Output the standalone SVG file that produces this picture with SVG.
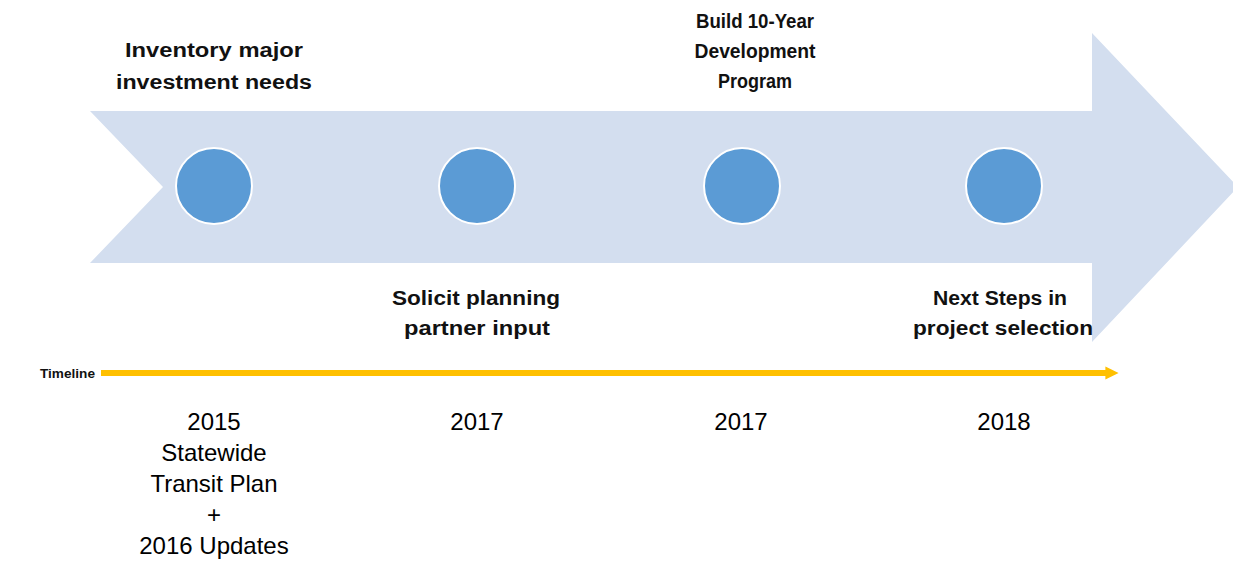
<svg xmlns="http://www.w3.org/2000/svg" width="1233" height="578" viewBox="0 0 1233 578">
<defs>
<style>
.lbl{font-family:"Liberation Sans",Arial,sans-serif;font-weight:bold;font-size:20px;fill:#111;text-anchor:middle}
.yr{font-family:"Liberation Sans",Arial,sans-serif;font-size:24px;fill:#000;text-anchor:middle}
.dot{fill:#5B9BD5;stroke:#ffffff;stroke-width:2}
.tl{font-family:"Liberation Sans",Arial,sans-serif;font-weight:bold;font-size:13px;fill:#111}
</style>
<marker id="ah" viewBox="0 0 10 10" refX="5" refY="5" markerWidth="2.2" markerHeight="2.2" orient="auto" markerUnits="strokeWidth">
<path d="M0,0 L10,5 L0,10 z" fill="#FFC000"/>
</marker>
</defs>
<g id="big-arrow">
<polygon points="90,111 1092,111 1092,33 1238,187 1092,342 1092,263 90,263 163,187" fill="#D3DEEF"/>
</g>
<g id="connectors">
<line x1="101" y1="373" x2="1112" y2="373" stroke="#FFC000" stroke-width="6" marker-end="url(#ah)"/>
</g>
<g id="timeline-label">
<text class="tl" x="40" y="378" textLength="55" lengthAdjust="spacingAndGlyphs">Timeline</text>
</g>
<g id="node1">
<circle class="dot" cx="214" cy="186" r="38"/>
<text class="lbl" x="214" y="57" textLength="178" lengthAdjust="spacingAndGlyphs">Inventory major</text>
<text class="lbl" x="214" y="89" textLength="196" lengthAdjust="spacingAndGlyphs">investment needs</text>
<text class="yr" x="214" y="430">2015</text>
<text class="yr" x="214" y="461">Statewide</text>
<text class="yr" x="214" y="492">Transit Plan</text>
<text class="yr" x="214" y="523">+</text>
<text class="yr" x="214" y="554">2016 Updates</text>
</g>
<g id="node2">
<circle class="dot" cx="477" cy="186" r="38"/>
<text class="lbl" x="476" y="305" textLength="168" lengthAdjust="spacingAndGlyphs">Solicit planning</text>
<text class="lbl" x="477" y="335" textLength="146" lengthAdjust="spacingAndGlyphs">partner input</text>
<text class="yr" x="477" y="430">2017</text>
</g>
<g id="node3">
<circle class="dot" cx="742" cy="186" r="38"/>
<text class="lbl" x="755" y="28" textLength="118" lengthAdjust="spacingAndGlyphs">Build 10-Year</text>
<text class="lbl" x="755" y="58" textLength="121" lengthAdjust="spacingAndGlyphs">Development</text>
<text class="lbl" x="755" y="88" textLength="74" lengthAdjust="spacingAndGlyphs">Program</text>
<text class="yr" x="741" y="430">2017</text>
</g>
<g id="node4">
<circle class="dot" cx="1004" cy="186" r="38"/>
<text class="lbl" x="1000" y="305" textLength="134" lengthAdjust="spacingAndGlyphs">Next Steps in</text>
<text class="lbl" x="1003" y="335" textLength="180" lengthAdjust="spacingAndGlyphs">project selection</text>
<text class="yr" x="1004" y="430">2018</text>
</g>
</svg>
